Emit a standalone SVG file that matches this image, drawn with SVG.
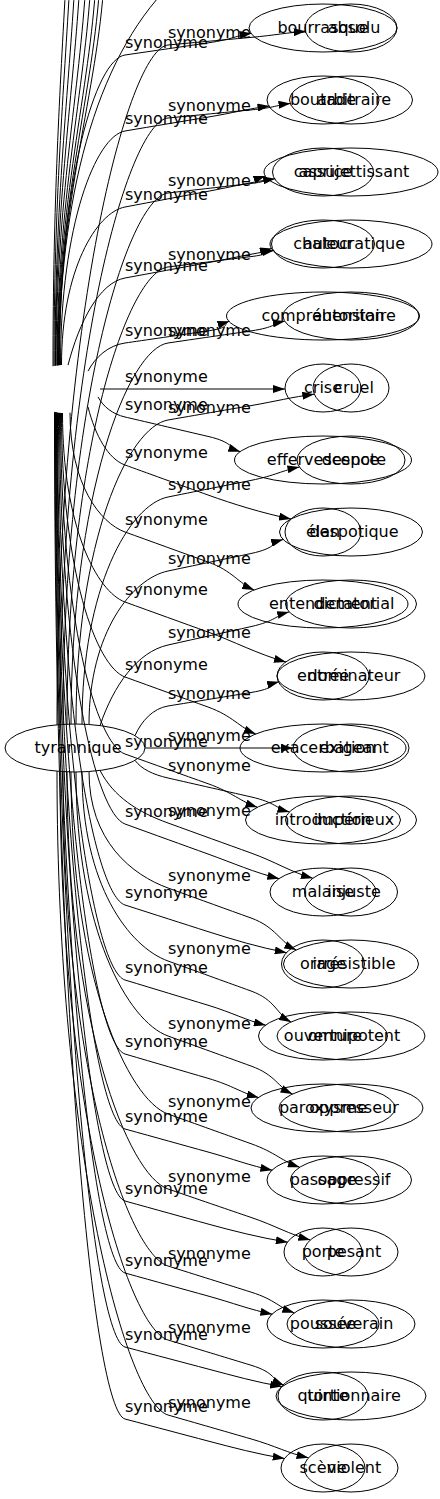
<svg xmlns="http://www.w3.org/2000/svg" width="440" height="1499" viewBox="0 0 440 1499">
<style>
.e{fill:none;stroke:#000;stroke-width:1;marker-end:url(#arr)}
.eo{fill:none;stroke:#000;stroke-width:1}
ellipse{fill:none;stroke:#000;stroke-width:1}
text{font-family:"DejaVu Sans",sans-serif;font-size:16px;fill:#000}
.nt{text-anchor:middle}
</style>
<defs>
<marker id="arr" markerWidth="12" markerHeight="8" refX="12" refY="4" orient="auto" markerUnits="userSpaceOnUse"><path d="M0,0 L12,4 L0,8 z" fill="#000"/></marker>
</defs>
<g id="connectors">
<path class="eo" d="M53,366.2 C53,200 60,90 66,-20"/>
<path class="eo" d="M54,366 C54,200 64,90 70,-20"/>
<path class="eo" d="M55,365.8 C55,200 69,90 75,-20"/>
<path class="eo" d="M55.5,365.7 C55.5,200 74,90 80,-20"/>
<path class="eo" d="M56,365.6 C56,200 80,90 86,-20"/>
<path class="eo" d="M57,365.5 C57,200 85,90 91,-20"/>
<path class="eo" d="M57.5,365.4 C57.5,200 90,90 96,-20"/>
<path class="eo" d="M58,365.3 C58,200 94,90 100,-20"/>
<path class="eo" d="M58.5,365.3 C58.5,200 98,90 104,-20"/>
<path class="eo" d="M59,365.2 C59,200 95,60 170,-15"/>
<path class="e" d="M59.5,365.2 C59.5,179.1 95.5,59.3 125,55 S183,46.6 208,42.9 S236.3,35.6 251.6,33.2"/>
<path class="e" d="M60.5,365.1 C60.5,224.6 96,135.9 125,131 S183,121.3 208,117.1 S248,108.8 269.5,106"/>
<path class="e" d="M61.5,365 C61.5,270.2 96.4,212.4 125,207 S183,196 208,191.3 S251.7,181.9 275.2,178.8"/>
<path class="e" d="M68,365.1 C79.4,321.5 99.3,282.7 125,278 S183,267.3 208,262.7 S251,253.6 274.1,250.5"/>
<path class="e" d="M88,371.1 C95.4,357.1 108.3,345.4 125,343 S183,334.6 208,330.9 S221.9,323.6 229.4,321.2"/>
<path class="e" d="M100,389 L285,389"/>
<path class="e" d="M98,396.9 C103.4,406.9 112.8,414.2 125,417 S183,430.6 208,436.4 S229,447.9 240.3,451.7"/>
<path class="e" d="M88,406.9 C95.4,435.9 108.3,459 125,465 S183,486 208,495 S262,513 291,519"/>
<path class="e" d="M70,412.7 C70,484.3 100.3,523.1 125,532 S183,553 208,562 S238,583 254.1,590"/>
<path class="e" d="M62.5,413 C62.5,526.4 96.9,591.8 125,602 S183,623 208,632 S258.7,654.5 286,662"/>
<path class="e" d="M61.5,413 C61.5,571.4 96.4,666.7 125,677 S183,698 208,707 S239.1,727.3 255.8,734"/>
<path class="e" d="M60.5,412.9 C60.5,617.6 96,743.6 125,754 S183,774.8 208,783.7 S240.2,801.4 257.5,807.3"/>
<path class="e" d="M59.5,412.8 C59.5,659.5 95.5,813.3 125,824 S183,845 208,854 S254.3,872.5 279.3,878.7"/>
<path class="e" d="M58.5,412.7 C58.5,708.1 95.1,895.4 125,905 S183,923.6 208,931.6 S259.2,947.4 286.7,952.7"/>
<path class="e" d="M57.5,412.6 C57.5,753 94.6,970.8 125,980 S183,997.6 208,1005.2 S245.6,1020.2 265.8,1025.2"/>
<path class="e" d="M57,412.5 C57,797.4 94.4,1045 125,1054 S183,1071 208,1078.3 S241,1092.8 258.7,1097.6"/>
<path class="e" d="M56.5,412.4 C56.5,842.4 94.2,1120.5 125,1129 S183,1145.1 208,1152 S249.9,1165.7 272.4,1170.2"/>
<path class="e" d="M56,412.3 C56,885.5 94,1192.4 125,1201 S183,1217.1 208,1224 S259.9,1237.7 287.8,1242.2"/>
<path class="e" d="M55.5,412.2 C55.5,928.7 93.7,1264.3 125,1273 S183,1289.1 208,1296 S249.9,1309.7 272.4,1314.2"/>
<path class="e" d="M55,412 C55,973 93.5,1338.6 125,1347 S183,1362.4 208,1369 S256.2,1382.2 282.1,1386.6"/>
<path class="e" d="M54.5,411.9 C54.5,1016.2 93.3,1410.6 125,1419 S183,1434.4 208,1441 S257.9,1454.2 284.7,1458.6"/>
<path class="e" d="M57,724.8 C57,316.9 128,48.7 168,45 S226,39.7 251,37.4 S285.9,32.8 305.7,31.3"/>
<path class="e" d="M60,724.6 C60,360.6 128,121.9 168,118 S226,112.3 251,109.9 S276,105.1 290.5,103.5"/>
<path class="e" d="M63,724.4 C63,405.6 128,197.6 168,193 S226,186.4 251,183.5 S259.7,177.9 265.4,176"/>
<path class="e" d="M67,724.2 C67,449.9 128,272 168,267 S226,259.7 251,256.6 S263.9,250.5 271.8,248.4"/>
<path class="e" d="M71,724 C71,495.4 128,348.9 168,343 S226,334.6 251,330.9 S272.3,323.6 284.7,321.2"/>
<path class="e" d="M76,724 C76,541.6 128,426.9 168,420 S226,409.9 251,405.6 S291.5,397.1 314.3,394.2"/>
<path class="e" d="M82,724.1 C82,587.8 129.3,504.8 168,497 S226,485.4 251,480.4 S281.8,470.4 299.4,467.1"/>
<path class="e" d="M89,724.5 C89,632.4 132.4,578.5 168,571 S226,558.8 251,553.5 S271.2,543 283.1,539.5"/>
<path class="e" d="M100,725.6 C113.6,685.3 137.4,651.8 168,645 S226,632.2 251,626.6 S275.1,615.6 289.1,611.9"/>
<path class="e" d="M135,735.6 C141.6,720.8 153.1,708.4 168,706 S226,696.6 251,692.5 S268.6,684.5 279.1,681.8"/>
<path class="e" d="M145,748 L293,748"/>
<path class="e" d="M135,760.4 C141.6,769.2 153.1,774.6 168,778 S226,791.2 251,796.9 S275.3,808.2 289.4,811.9"/>
<path class="e" d="M100,770.4 C113.6,796.7 137.4,811.9 168,823 S226,844 251,853 S290.6,872 312.9,878.3"/>
<path class="e" d="M89,771.5 C89,841.4 132.4,875.1 168,888 S226,909 251,918 S279.7,942 296.2,950"/>
<path class="e" d="M82,771.9 C82,885.4 129.3,947 168,961 S226,982 251,991 S276.4,1014.3 291.1,1022"/>
<path class="e" d="M76,772 C76,930.4 128,1021.5 168,1036 S226,1057 251,1066 S277.3,1087 292.5,1094"/>
<path class="e" d="M71,772 C71,977.2 128,1099.7 168,1114 S226,1134.8 251,1143.7 S282.1,1161.4 299.8,1167.3"/>
<path class="e" d="M67,771.8 C67,1022.1 128,1175.3 168,1189 S226,1208.9 251,1217.4 S288.9,1234.3 310.3,1239.9"/>
<path class="e" d="M63,771.6 C63,1068.2 128,1253.4 168,1266 S226,1284.2 251,1292.1 S278.5,1307.6 294.3,1312.8"/>
<path class="e" d="M60,771.4 C60,1112.6 128,1327.9 168,1340 S226,1357.6 251,1365.2 S271.8,1380.2 284,1385.2"/>
<path class="e" d="M57,771.2 C57,1157.5 128,1403.5 168,1415 S226,1431.7 251,1438.9 S287.7,1453.1 308.5,1457.8"/>
<g id="labels-b">
<text x="125" y="48">synonyme</text>
<text x="125" y="124">synonyme</text>
<text x="125" y="200">synonyme</text>
<text x="125" y="271">synonyme</text>
<text x="125" y="336">synonyme</text>
<text x="125" y="382">synonyme</text>
<text x="125" y="410">synonyme</text>
<text x="125" y="458">synonyme</text>
<text x="125" y="525">synonyme</text>
<text x="125" y="595">synonyme</text>
<text x="125" y="670">synonyme</text>
<text x="125" y="747">synonyme</text>
<text x="125" y="817">synonyme</text>
<text x="125" y="898">synonyme</text>
<text x="125" y="973">synonyme</text>
<text x="125" y="1047">synonyme</text>
<text x="125" y="1122">synonyme</text>
<text x="125" y="1194">synonyme</text>
<text x="125" y="1266">synonyme</text>
<text x="125" y="1340">synonyme</text>
<text x="125" y="1412">synonyme</text>
</g>
<g id="labels-a">
<text x="168" y="38">synonyme</text>
<text x="168" y="111">synonyme</text>
<text x="168" y="186">synonyme</text>
<text x="168" y="260">synonyme</text>
<text x="168" y="336">synonyme</text>
<text x="168" y="413">synonyme</text>
<text x="168" y="490">synonyme</text>
<text x="168" y="564">synonyme</text>
<text x="168" y="638">synonyme</text>
<text x="168" y="699">synonyme</text>
<text x="168" y="741">synonyme</text>
<text x="168" y="771">synonyme</text>
<text x="168" y="816">synonyme</text>
<text x="168" y="881">synonyme</text>
<text x="168" y="954">synonyme</text>
<text x="168" y="1029">synonyme</text>
<text x="168" y="1107">synonyme</text>
<text x="168" y="1182">synonyme</text>
<text x="168" y="1259">synonyme</text>
<text x="168" y="1333">synonyme</text>
<text x="168" y="1408">synonyme</text>
</g>
</g>
<g id="n-tyrannique"><ellipse cx="75" cy="748" rx="70" ry="24"/><text class="nt" x="78" y="753">tyrannique</text></g>
<g id="n-bourrasque"><ellipse cx="323" cy="28" rx="74" ry="24"/><text class="nt" x="323" y="33">bourrasque</text></g>
<g id="n-boutade"><ellipse cx="323" cy="100" rx="56" ry="24"/><text class="nt" x="323" y="105">boutade</text></g>
<g id="n-caprice"><ellipse cx="323" cy="172" rx="50.5" ry="24"/><text class="nt" x="323" y="177">caprice</text></g>
<g id="n-chaleur"><ellipse cx="323" cy="244" rx="51.5" ry="24"/><text class="nt" x="323" y="249">chaleur</text></g>
<g id="n-comprehension"><ellipse cx="323" cy="316" rx="96.5" ry="24"/><text class="nt" x="323" y="321">compréhension</text></g>
<g id="n-crise"><ellipse cx="323" cy="388" rx="38" ry="24"/><text class="nt" x="323" y="393">crise</text></g>
<g id="n-effervescence"><ellipse cx="323" cy="460" rx="88.5" ry="24"/><text class="nt" x="323" y="465">effervescence</text></g>
<g id="n-elan"><ellipse cx="323" cy="532" rx="38" ry="24"/><text class="nt" x="323" y="537">élan</text></g>
<g id="n-entendement"><ellipse cx="323" cy="604" rx="85" ry="24"/><text class="nt" x="323" y="609">entendement</text></g>
<g id="n-entree"><ellipse cx="323" cy="676" rx="46" ry="24"/><text class="nt" x="323" y="681">entrée</text></g>
<g id="n-exacerbation"><ellipse cx="323" cy="748" rx="83" ry="24"/><text class="nt" x="323" y="753">exacerbation</text></g>
<g id="n-introduction"><ellipse cx="323" cy="820" rx="77.5" ry="24"/><text class="nt" x="323" y="825">introduction</text></g>
<g id="n-malaise"><ellipse cx="323" cy="892" rx="53" ry="24"/><text class="nt" x="323" y="897">malaise</text></g>
<g id="n-orage"><ellipse cx="323" cy="964" rx="41.5" ry="24"/><text class="nt" x="323" y="969">orage</text></g>
<g id="n-ouverture"><ellipse cx="323" cy="1036" rx="64.5" ry="24"/><text class="nt" x="323" y="1041">ouverture</text></g>
<g id="n-paroxysme"><ellipse cx="323" cy="1108" rx="72" ry="24"/><text class="nt" x="323" y="1113">paroxysme</text></g>
<g id="n-passage"><ellipse cx="323" cy="1180" rx="56" ry="24"/><text class="nt" x="323" y="1185">passage</text></g>
<g id="n-porte"><ellipse cx="323" cy="1252" rx="39" ry="24"/><text class="nt" x="323" y="1257">porte</text></g>
<g id="n-poussee"><ellipse cx="323" cy="1324" rx="56" ry="24"/><text class="nt" x="323" y="1329">poussée</text></g>
<g id="n-quinte"><ellipse cx="323" cy="1396" rx="45" ry="24"/><text class="nt" x="323" y="1401">quinte</text></g>
<g id="n-scene"><ellipse cx="323" cy="1468" rx="42" ry="24"/><text class="nt" x="323" y="1473">scène</text></g>
<g id="n-absolu"><ellipse cx="351" cy="28" rx="46" ry="24"/><text class="nt" x="354" y="33">absolu</text></g>
<g id="n-arbitraire"><ellipse cx="351" cy="100" rx="61.5" ry="24"/><text class="nt" x="354" y="105">arbitraire</text></g>
<g id="n-assujettissant"><ellipse cx="351" cy="172" rx="87" ry="24"/><text class="nt" x="354" y="177">assujettissant</text></g>
<g id="n-autocratique"><ellipse cx="351" cy="244" rx="81" ry="24"/><text class="nt" x="354" y="249">autocratique</text></g>
<g id="n-autoritaire"><ellipse cx="351" cy="316" rx="68" ry="24"/><text class="nt" x="354" y="321">autoritaire</text></g>
<g id="n-cruel"><ellipse cx="351" cy="388" rx="38" ry="24"/><text class="nt" x="354" y="393">cruel</text></g>
<g id="n-despote"><ellipse cx="351" cy="460" rx="54" ry="24"/><text class="nt" x="354" y="465">despote</text></g>
<g id="n-despotique"><ellipse cx="351" cy="532" rx="71.5" ry="24"/><text class="nt" x="354" y="537">despotique</text></g>
<g id="n-dictatorial"><ellipse cx="351" cy="604" rx="65.5" ry="24"/><text class="nt" x="354" y="609">dictatorial</text></g>
<g id="n-dominateur"><ellipse cx="351" cy="676" rx="74" ry="24"/><text class="nt" x="354" y="681">dominateur</text></g>
<g id="n-exigeant"><ellipse cx="351" cy="748" rx="58" ry="24"/><text class="nt" x="354" y="753">exigeant</text></g>
<g id="n-imperieux"><ellipse cx="351" cy="820" rx="65.5" ry="24"/><text class="nt" x="354" y="825">impérieux</text></g>
<g id="n-injuste"><ellipse cx="351" cy="892" rx="46.5" ry="24"/><text class="nt" x="354" y="897">injuste</text></g>
<g id="n-irresistible"><ellipse cx="351" cy="964" rx="67.5" ry="24"/><text class="nt" x="354" y="969">irrésistible</text></g>
<g id="n-omnipotent"><ellipse cx="351" cy="1036" rx="74" ry="24"/><text class="nt" x="354" y="1041">omnipotent</text></g>
<g id="n-oppresseur"><ellipse cx="351" cy="1108" rx="72" ry="24"/><text class="nt" x="354" y="1113">oppresseur</text></g>
<g id="n-oppressif"><ellipse cx="351" cy="1180" rx="60.5" ry="24"/><text class="nt" x="354" y="1185">oppressif</text></g>
<g id="n-pesant"><ellipse cx="351" cy="1252" rx="47" ry="24"/><text class="nt" x="354" y="1257">pesant</text></g>
<g id="n-souverain"><ellipse cx="351" cy="1324" rx="64" ry="24"/><text class="nt" x="354" y="1329">souverain</text></g>
<g id="n-tortionnaire"><ellipse cx="351" cy="1396" rx="75" ry="24"/><text class="nt" x="354" y="1401">tortionnaire</text></g>
<g id="n-violent"><ellipse cx="351" cy="1468" rx="47" ry="24"/><text class="nt" x="354" y="1473">violent</text></g>
</svg>
